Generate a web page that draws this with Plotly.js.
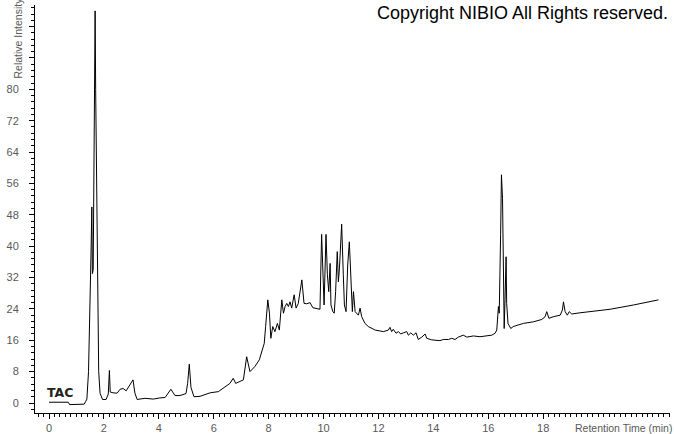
<!DOCTYPE html>
<html>
<head>
<meta charset="utf-8">
<script src="https://cdn.plot.ly/plotly-3.0.1.min.js"></script>
<style>html,body{margin:0;padding:0;background:#fff;}#chart{width:674px;height:434px;}</style>
</head>
<body>
<div id="chart"></div>
<script>
// Retention time (min) and relative intensity
const rtMin = [
  0, 0.7, 0.75, 1.28, 1.33, 1.38, 1.44, 1.49, 1.53, 1.56, 1.58, 1.61, 1.64, 1.68, 1.70, 1.72, 1.74, 1.77, 1.81, 1.86,
  1.95, 2.08, 2.16, 2.20, 2.23, 2.33, 2.48, 2.59, 2.70, 2.81, 2.91, 3.06, 3.13, 3.21, 3.50, 3.80, 4.04, 4.23, 4.44, 4.59,
  4.77, 4.99, 5.05, 5.11, 5.17, 5.28, 5.50, 5.87, 6.17, 6.41, 6.59, 6.71, 6.80, 7.08, 7.20, 7.32, 7.50, 7.66, 7.75, 7.84,
  7.89, 7.97, 8.03, 8.08, 8.15, 8.23, 8.32, 8.39, 8.48, 8.54, 8.60, 8.66, 8.72, 8.78, 8.84, 8.93, 9.00, 9.08, 9.21, 9.29,
  9.39, 9.51, 9.61, 9.73, 9.87, 9.93, 9.99, 10.02, 10.09, 10.14, 10.19, 10.24, 10.27, 10.34, 10.39, 10.44, 10.50, 10.54, 10.58, 10.66,
  10.72, 10.76, 10.82, 10.88, 10.94, 11.00, 11.05, 11.09, 11.15, 11.27, 11.33, 11.39, 11.51, 11.63, 11.88, 12.18, 12.36, 12.42, 12.48, 12.54,
  12.64, 12.73, 12.81, 12.91, 13.03, 13.09, 13.18, 13.27, 13.37, 13.45, 13.58, 13.70, 13.76, 13.94, 14.24, 14.36, 14.55, 14.67, 14.79, 14.91,
  15.09, 15.22, 15.46, 15.70, 15.95, 16.13, 16.25, 16.31, 16.37, 16.40, 16.45, 16.48, 16.52, 16.55, 16.58, 16.61, 16.65, 16.67, 16.72, 16.82,
  16.91, 17.28, 17.64, 17.95, 18.07, 18.13, 18.21, 18.37, 18.62, 18.70, 18.74, 18.80, 18.88, 18.95, 19.04, 19.34, 19.71, 20.44, 21.29, 21.77,
  22.20
];
const intensity = [
  0.2, 0.2, -0.4, -0.3, 0.3, 1, 8, 22, 38, 50, 33, 34, 60, 100, 80, 66, 42, 22, 8, 2.5,
  0.9, 0.9, 2.3, 8.3, 2.8, 2.6, 2.5, 3.5, 3.7, 3.1, 4.2, 5.9, 2.5, 0.9, 1.2, 1.0, 1.3, 1.4, 3.5, 1.9,
  1.9, 2.4, 5, 9.9, 4, 1.6, 1.7, 2.6, 2.9, 4.0, 5.0, 6.3, 5.0, 5.9, 11.8, 8.0, 9.3, 11.0, 13.1, 15.2,
  19.5, 26.3, 22.9, 16.5, 19.5, 18.2, 20.3, 18.6, 26.3, 22.9, 24.6, 25.4, 24.6, 25.8, 24.2, 27.6, 24.2, 25.4, 31.4, 25.4,
  25.3, 25.6, 24.3, 24.2, 23.9, 43.0, 30.9, 25.0, 43.0, 32.7, 28.4, 35.6, 25.0, 23.3, 22.9, 28.4, 38.6, 30.9, 34.4, 45.6,
  32.7, 25.0, 23.3, 35.2, 41.1, 30.1, 23.3, 28.4, 23.3, 22.4, 24.2, 22.0, 20.3, 19.5, 18.6, 18.2, 18.6, 19.3, 18.2, 18.8,
  17.8, 18.2, 17.6, 17.9, 18.2, 17.3, 17.9, 17.3, 17.9, 16.2, 16.8, 17.6, 16.5, 16.1, 15.9, 16.2, 16.2, 16.5, 16.2, 16.8,
  17.3, 16.8, 17.1, 16.9, 17.1, 17.3, 17.8, 18.6, 24.6, 22.9, 42.9, 58.2, 52.2, 28.0, 19.0, 26.3, 37.3, 25.4, 20.3, 19.0,
  19.5, 20.3, 20.7, 21.3, 22.0, 23.3, 21.6, 22.0, 22.4, 23.7, 25.8, 23.3, 22.4, 23.3, 22.7, 23.0, 23.3, 23.9, 25.0, 25.6,
  26.3
];
const xTickVals = [0, 2, 4, 6, 8, 10, 12, 14, 16, 18];
const yTickVals = [0, 8, 16, 24, 32, 40, 48, 56, 64, 72, 80, 88, 96];
const yTickText = ['0', '8', '16', '24', '32', '40', '48', '56', '64', '72', '80', '', ''];

const tickFont = {family: 'Liberation Sans, Arial, sans-serif', size: 11, color: '#595959'};

const trace = {
  x: rtMin, y: intensity, type: 'scatter', mode: 'lines',
  line: {color: '#000', width: 1}, hoverinfo: 'skip'
};

const layout = {
  width: 674, height: 434,
  margin: {l: 35, r: 4, t: 5, b: 21},
  paper_bgcolor: '#fff', plot_bgcolor: '#fff',
  showlegend: false,
  xaxis: {
    range: [-0.51, 22.62], showgrid: false, zeroline: false,
    showline: true, linecolor: '#000', linewidth: 1,
    tickmode: 'array', tickvals: xTickVals,
    ticks: 'outside', ticklen: 5, tickcolor: '#000', tickwidth: 1,
    tickfont: tickFont,
    minor: {tickmode: 'linear', tick0: 0, dtick: 0.2, ticks: 'outside', ticklen: 3, tickcolor: '#000', showgrid: false}
  },
  yaxis: {
    range: [-2.55, 101.5], showgrid: false, zeroline: false,
    showline: true, linecolor: '#000', linewidth: 1,
    tickmode: 'array', tickvals: yTickVals, ticktext: yTickText,
    ticks: 'outside', ticklen: 5, tickcolor: '#000', tickwidth: 1,
    ticklabelstandoff: 8,
    tickfont: tickFont,
    minor: {tickmode: 'linear', tick0: 0, dtick: 1.6, ticks: 'outside', ticklen: 3, tickcolor: '#000', showgrid: false}
  },
  annotations: [
    {text: 'Copyright NIBIO All Rights reserved.', xref: 'paper', yref: 'paper',
     x: 1, y: 1.0, xanchor: 'right', yanchor: 'top', xshift: 0, yshift: 4, showarrow: false,
     font: {family: 'Liberation Sans, Arial, sans-serif', size: 18, color: '#000'}},
    {text: '<b>TAC</b>', xref: 'x', yref: 'y', x: 0.4, y: 2.6, xanchor: 'center', yanchor: 'middle',
     showarrow: false, font: {family: 'DejaVu Sans, sans-serif', size: 12.5, color: '#222'}},
    {text: 'Retention Time (min)', xref: 'paper', yref: 'paper', x: 1, y: 0,
     xanchor: 'right', yanchor: 'top', xshift: 4, yshift: -7, showarrow: false,
     font: {family: 'Liberation Sans, Arial, sans-serif', size: 10.5, color: '#595959'}},
    {text: 'Relative Intensity', xref: 'paper', yref: 'paper', x: 0, y: 0.8137,
     xanchor: 'center', yanchor: 'bottom', xshift: -17, textangle: -90, showarrow: false,
     font: {family: 'Liberation Sans, Arial, sans-serif', size: 10.5, color: '#595959'}}
  ]
};

Plotly.newPlot('chart', [trace], layout, {staticPlot: true, displayModeBar: false});
</script>
</body>
</html>
